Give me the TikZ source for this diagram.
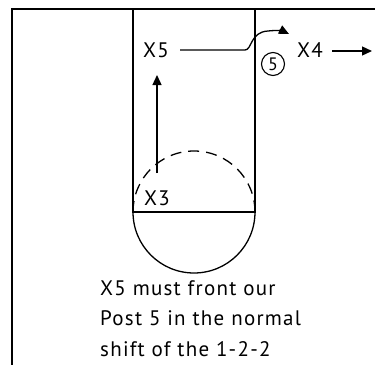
\documentclass[tikz,border=0pt]{standalone}
\usepackage{fontspec}
\setmainfont{PT Sans}[LetterSpace=6]
\usetikzlibrary{arrows.meta}
\begin{document}
\begin{tikzpicture}[x=1pt,y=-1pt,
  ln/.style={line width=1.3pt},
  arr/.style={ln,-{Triangle[length=10pt,width=9pt]}},
  lbl/.style={inner sep=0pt,anchor=base west,font=\fontsize{21}{24}\selectfont},
  txt/.style={inner sep=0pt,anchor=base west,font=\fontsize{21}{24}\selectfont}]
\useasboundingbox (0,0) rectangle (375,365);
% court border
\draw[ln] (375,9) -- (12,9) -- (12,365);
% lane
\coordinate (lt) at (133,9);
\coordinate (rt) at (255,9);
\coordinate (lb) at (133,212);
\coordinate (rb) at (255,212);
\draw[ln] (lt) -- (lb) -- (rb) -- (rt);
% free-throw circle
\draw[ln] (lb) arc[start angle=180,end angle=0,radius=61];
\draw[ln,dash pattern=on 11pt off 7pt] (lb) arc[start angle=180,end angle=360,radius=61];
% labels
\node[lbl] (x3) at (144,205) {X3};
\node[lbl] (x5) at (143,57) {X5};
\node[lbl] (x4) at (297,57) {X4};
\node[draw,circle,line width=1.1pt,minimum size=23pt,inner sep=0pt,font=\fontsize{18}{18}\selectfont] (p5) at (273,64) {5};
% movements
\coordinate (a1) at (157,173);
\coordinate (a2) at (157,75);
\draw[arr] (a1) -- (a2);
\coordinate (b1) at (180,50);
\coordinate (b2) at (245,50);
\coordinate (b3) at (268,31);
\coordinate (b4) at (289,34);
\draw[arr] (b1) -- (b2) .. controls (252,50) and (250,32) .. (b3) .. controls (276,30) and (283,31) .. (b4);
\coordinate (c1) at (332,51);
\coordinate (c2) at (372,51);
\draw[arr] (c1) -- (c2);
% caption
\node[txt] (t1) at (100,295) {X5 must front our};
\node[txt] (t2) at (100,325) {Post 5 in the normal};
\node[txt] (t3) at (100,356) {shift of the 1-2-2};
\end{tikzpicture}
\end{document}
